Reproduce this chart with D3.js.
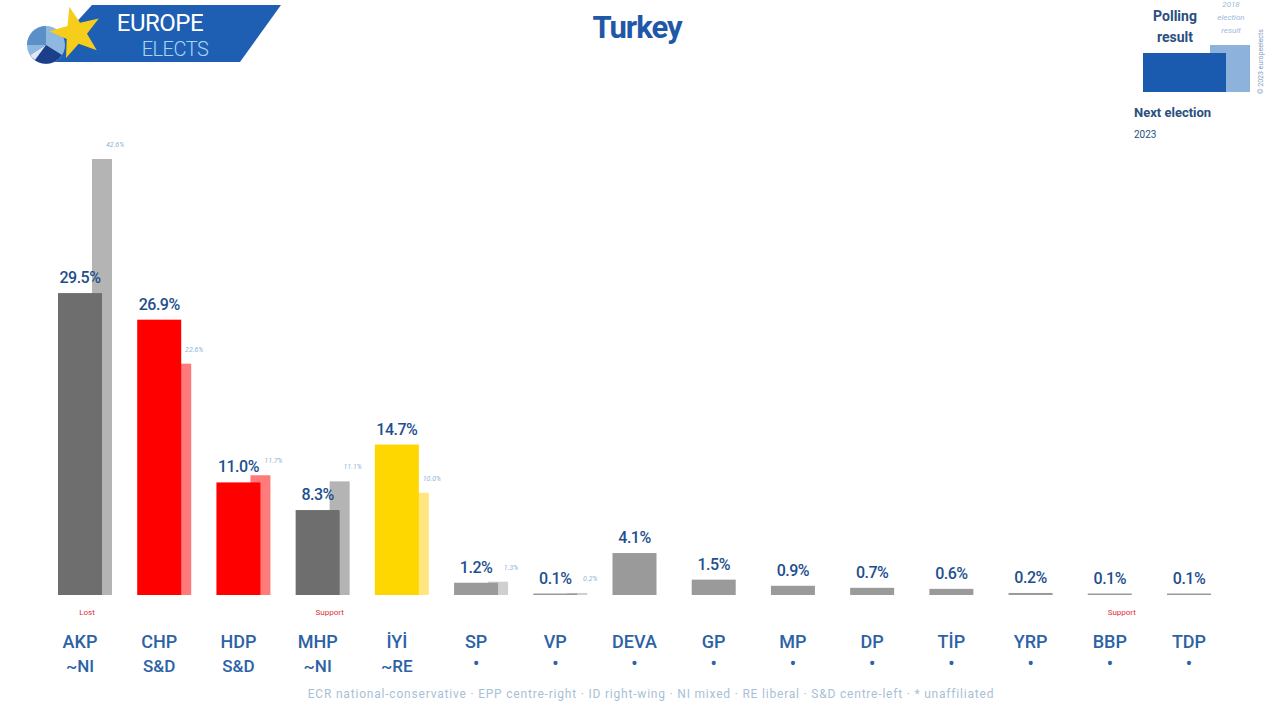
<!DOCTYPE html>
<html><head><meta charset="utf-8">
<script src="https://cdn.jsdelivr.net/npm/d3@7"></script>
<style>
html,body{margin:0;padding:0;background:#fff;}
svg{display:block;font-family:Roboto,"Noto Sans",sans-serif;}
</style></head>
<body>
<svg id="chart" width="1280" height="720"></svg>
<script>
// ---- data ----
const parties = ["AKP","CHP","HDP","MHP","İYİ","SP","VP","DEVA","GP","MP","DP","TİP","YRP","BBP","TDP"];
const groups  = ["~NI","S&D","S&D","~NI","~RE","•","•","•","•","•","•","•","•","•","•"];
const polling = [29.5,26.9,11.0,8.3,14.7,1.2,0.1,4.1,1.5,0.9,0.7,0.6,0.2,0.1,0.1];
const pollingLabels = ["29.5%","26.9%","11.0%","8.3%","14.7%","1.2%","0.1%","4.1%","1.5%","0.9%","0.7%","0.6%","0.2%","0.1%","0.1%"];
const election2018 = [42.6,22.6,11.7,11.1,10.0,1.3,0.2,null,null,null,null,null,null,null,null];
const electionLabels = ["42.6%","22.6%","11.7%","11.1%","10.0%","1.3%","0.2%","","","","","","","",""];
const notes = ["Lost","","","Support","","","","","","","","","","Support",""];
const mainColors = ["#6e6e6e","#ff0000","#ff0000","#6e6e6e","#ffd700","#9a9a9a","#9a9a9a","#9a9a9a","#9a9a9a","#9a9a9a","#9a9a9a","#9a9a9a","#9a9a9a","#9a9a9a","#9a9a9a"];
const prevColors = ["#b4b4b4","#ff7b7b","#ff7b7b","#b4b4b4","#ffe680","#cfcfcf","#cfcfcf"];
const footer = "ECR national-conservative · EPP centre-right · ID right-wing · NI mixed · RE liberal · S&D centre-left · * unaffiliated";

const svg = d3.select("#chart");
const baseY = 595;
const y = d3.scaleLinear().domain([0, 42.6]).range([baseY, 159]);
const x = d3.scalePoint().domain(parties).range([80, 1189]);
const mainW = 44, prevW = 20, prevOff = 12;

// previous-election bars (behind)
parties.forEach((p,i)=>{
  if (election2018[i]==null) return;
  const cx = x(p);
  svg.append("rect")
    .attr("x", cx + prevOff).attr("width", prevW)
    .attr("y", y(election2018[i])).attr("height", baseY - y(election2018[i]))
    .attr("fill", prevColors[i]);
  svg.append("text")
    .attr("x", cx + prevOff + prevW + 3).attr("y", y(election2018[i]) - 12)
    .attr("text-anchor","middle").attr("font-size",7).attr("font-style","italic")
    .attr("fill","#8fb4d8").text(electionLabels[i]);
});
// polling bars
parties.forEach((p,i)=>{
  const cx = x(p);
  const h = Math.max(baseY - y(polling[i]), 1.5);
  svg.append("rect")
    .attr("x", cx - mainW/2).attr("width", mainW)
    .attr("y", baseY - h).attr("height", h)
    .attr("fill", mainColors[i]);
  svg.append("text")
    .attr("x", cx).attr("y", baseY - h - 10)
    .attr("text-anchor","middle").attr("font-size",16).attr("font-weight",500)
    .attr("letter-spacing","-0.5")
    .attr("fill","#1d4f8e").text(pollingLabels[i]);
  if (notes[i]) svg.append("text")
    .attr("x", cx + (i===0?7:12)).attr("y", 615)
    .attr("text-anchor","middle").attr("font-size",8)
    .attr("fill","#e0303a").text(notes[i]);
  svg.append("text")
    .attr("x", cx).attr("y", 648)
    .attr("text-anchor","middle").attr("font-size",18).attr("font-weight",500)
    .attr("fill","#2c62a6").text(p);
  const isDot = groups[i]==="•";
  svg.append("text")
    .attr("x", cx).attr("y", isDot?670:672)
    .attr("text-anchor","middle").attr("font-size",isDot?18:17).attr("font-weight",500)
    .attr("fill","#2c62a6").text(groups[i]);
});

// title
svg.append("text").attr("x",637).attr("y",38).attr("text-anchor","middle")
  .attr("font-size",31).attr("font-weight",700).attr("letter-spacing","-1")
  .attr("fill","#1f58a6").text("Turkey");

// footer
svg.append("text").attr("x",651).attr("y",698).attr("text-anchor","middle")
  .attr("font-size",12).attr("letter-spacing","0.8").attr("fill","#a8bfd6").text(footer);

// logo
const logo = svg.append("g");
logo.append("path").attr("d","M92,5 L281,5 L240,62 L40,62 Z").attr("fill","#1e5fb4");
logo.append("circle").attr("cx",46).attr("cy",45).attr("r",19).attr("fill","#8fb8e0");
logo.append("path").attr("d","M46,45 L27,45 A19,19 0 0,1 46,26 Z").attr("fill","#5b8fc8");
logo.append("path").attr("d","M30,55 A19,19 0 0,0 62,55 L46,45 Z").attr("fill","#1b3f8a");
logo.append("path").attr("d","M35,60 A19,19 0 0,1 30,55 L46,45 Z").attr("fill","#dfe8f5");
const star = d3.range(10).map(k=>{const r=k%2?11:27;const a=-Math.PI/2+k*Math.PI/5-0.25;return [76+r*Math.cos(a),33+r*Math.sin(a)];});
logo.append("path").attr("d","M"+star.map(p=>p.join(",")).join("L")+"Z").attr("fill","#f7cd1c");
logo.append("text").attr("x",160).attr("y",31).attr("text-anchor","middle")
  .attr("font-size",24).attr("fill","#ffffff").attr("letter-spacing","-0.5").text("EUROPE");
logo.append("text").attr("x",175).attr("y",56).attr("text-anchor","middle")
  .attr("font-size",20).attr("font-weight",300).attr("fill","#a9d6f5").attr("letter-spacing","-0.5").text("ELECTS");

// legend
const lg = svg.append("g");
lg.append("rect").attr("x",1210).attr("y",45).attr("width",40).attr("height",47).attr("fill","#8db3dd");
lg.append("rect").attr("x",1143).attr("y",53).attr("width",83).attr("height",39).attr("fill","#1a5bb0");
lg.append("text").attr("x",1175).attr("y",21).attr("text-anchor","middle").attr("font-size",14).attr("font-weight",700).attr("fill","#2a4f80").text("Polling");
lg.append("text").attr("x",1175).attr("y",42).attr("text-anchor","middle").attr("font-size",14).attr("font-weight",700).attr("fill","#2a4f80").text("result");
["2018","election","result"].forEach((t,k)=>lg.append("text").attr("x",1231).attr("y",7+k*13).attr("text-anchor","middle")
  .attr("font-size",8).attr("font-style","italic").attr("fill","#9dbad8").text(t));
lg.append("text").attr("transform","translate(1263,94) rotate(-90)").attr("font-size",7).attr("fill","#7f9cbf").text("© 2023 europeelects");
lg.append("text").attr("x",1134).attr("y",117).attr("font-size",13).attr("font-weight",700).attr("fill","#2a4f80").text("Next election");
lg.append("text").attr("x",1134).attr("y",138).attr("font-size",10).attr("fill","#2a4f80").text("2023");
</script>
</body></html>
